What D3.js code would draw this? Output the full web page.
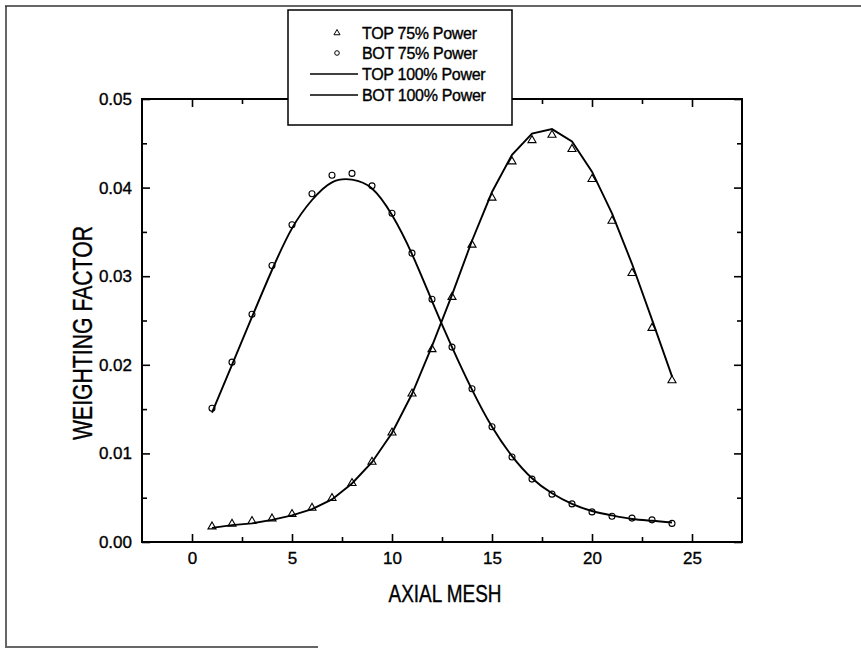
<!DOCTYPE html>
<html>
<head>
<meta charset="utf-8">
<script src="https://cdn.jsdelivr.net/npm/d3@7"></script>
<style>
  body { margin: 0; background: #fff; }
  svg { display: block; font-family: "Liberation Sans", Arial, sans-serif; }
  svg text { stroke: #000; stroke-width: 0.35px; }
</style>
</head>
<body>
<div id="chart"></div>
<script>
// axial mesh index and weighting factors
const axialMesh = [1, 2, 3, 4, 5, 6, 7, 8, 9, 10, 11, 12, 13, 14, 15, 16, 17, 18, 19, 20, 21, 22, 23, 24];

const top75 = [0.0018, 0.0021, 0.0024, 0.0027, 0.0032, 0.0039, 0.0050, 0.0067, 0.0091, 0.0124, 0.0168, 0.0218,
               0.0277, 0.0336, 0.0389, 0.0430, 0.0454, 0.0460, 0.0444, 0.0410, 0.0363, 0.0304, 0.0242, 0.0183];
const bot75 = [0.0151, 0.0203, 0.0257, 0.0312, 0.0358, 0.0393, 0.0414, 0.0416, 0.0402, 0.0371, 0.0326, 0.0274,
               0.0220, 0.0173, 0.0130, 0.0096, 0.0071, 0.0054, 0.0043, 0.0034, 0.0029, 0.0027, 0.0025, 0.0021];
const top100 = [0.0016, 0.0019, 0.0021, 0.0025, 0.0030, 0.0037, 0.0048, 0.0066, 0.0090, 0.0123, 0.0167, 0.0221,
                0.0279, 0.0340, 0.0395, 0.0437, 0.0461, 0.0466, 0.0452, 0.0418, 0.0371, 0.0314, 0.0251, 0.0187];
const bot100 = [0.0146, 0.0200, 0.0254, 0.0307, 0.0354, 0.0386, 0.0406, 0.0409, 0.0399, 0.0369, 0.0325, 0.0272,
                0.0220, 0.0172, 0.0130, 0.0097, 0.0072, 0.0055, 0.0043, 0.0035, 0.0030, 0.0026, 0.0024, 0.0022];

const xTicks = [0, 5, 10, 15, 20, 25];
const xMinorTicks = [2.5, 7.5, 12.5, 17.5, 22.5];
const yTicks = [0, 0.01, 0.02, 0.03, 0.04, 0.05];
const yMinorTicks = [0.005, 0.015, 0.025, 0.035, 0.045];

const legendLabels = ['TOP 75% Power', 'BOT 75% Power', 'TOP 100% Power', 'BOT 100% Power'];

const width = 861;
const height = 649;
const plot = { left: 142, right: 742, top: 99, bottom: 542 };

const svg = d3.select('#chart')
    .append('svg')
    .attr('width', width)
    .attr('height', height);

svg.append('rect').attr('width', width).attr('height', height).attr('fill', '#fff');

// scanned page edges
const edge = svg.append('g').attr('stroke', '#333').attr('stroke-width', 1.5).attr('fill', 'none');
edge.append('line').attr('x1', 5).attr('y1', 6).attr('x2', 861).attr('y2', 6);
edge.append('line').attr('x1', 6).attr('y1', 6).attr('x2', 6).attr('y2', 646);
edge.append('line').attr('x1', 5).attr('y1', 647).attr('x2', 318).attr('y2', 647);

const xScale = d3.scaleLinear().domain([-2.5, 27.5]).range([plot.left, plot.right]);
const yScale = d3.scaleLinear().domain([0, 0.05]).range([plot.bottom, plot.top]);

function styleAxis(g) {
    g.select('.domain').remove();
    g.selectAll('line').attr('stroke', '#000').attr('stroke-width', 1.6);
    g.selectAll('text').attr('fill', '#000').style('font-size', '17px')
        .style('font-family', '"Liberation Sans", Arial, sans-serif');
}

// bottom / top
svg.append('g').attr('transform', `translate(0,${plot.bottom})`)
    .call(d3.axisBottom(xScale).tickValues(xTicks).tickSize(-8).tickPadding(10).tickFormat(d3.format('d')))
    .call(styleAxis);
svg.append('g').attr('transform', `translate(0,${plot.bottom})`)
    .call(d3.axisBottom(xScale).tickValues(xMinorTicks).tickSize(-5).tickFormat(''))
    .call(styleAxis);
svg.append('g').attr('transform', `translate(0,${plot.top})`)
    .call(d3.axisTop(xScale).tickValues(xTicks).tickSize(-8).tickFormat(''))
    .call(styleAxis);
svg.append('g').attr('transform', `translate(0,${plot.top})`)
    .call(d3.axisTop(xScale).tickValues(xMinorTicks).tickSize(-5).tickFormat(''))
    .call(styleAxis);

// left / right
svg.append('g').attr('transform', `translate(${plot.left},0)`)
    .call(d3.axisLeft(yScale).tickValues(yTicks).tickSize(-8).tickPadding(10).tickFormat(d3.format('.2f')))
    .call(styleAxis);
svg.append('g').attr('transform', `translate(${plot.left},0)`)
    .call(d3.axisLeft(yScale).tickValues(yMinorTicks).tickSize(-5).tickFormat(''))
    .call(styleAxis);
svg.append('g').attr('transform', `translate(${plot.right},0)`)
    .call(d3.axisRight(yScale).tickValues(yTicks).tickSize(-8).tickFormat(''))
    .call(styleAxis);
svg.append('g').attr('transform', `translate(${plot.right},0)`)
    .call(d3.axisRight(yScale).tickValues(yMinorTicks).tickSize(-5).tickFormat(''))
    .call(styleAxis);

// frame
svg.append('rect')
    .attr('x', plot.left).attr('y', plot.top)
    .attr('width', plot.right - plot.left).attr('height', plot.bottom - plot.top)
    .attr('fill', 'none').attr('stroke', '#000').attr('stroke-width', 2);

// axis titles
svg.append('text')
    .attr('x', 445).attr('y', 602)
    .attr('text-anchor', 'middle')
    .attr('textLength', 113).attr('lengthAdjust', 'spacingAndGlyphs')
    .style('font-size', '24px')
    .text('AXIAL MESH');

svg.append('text')
    .attr('transform', 'translate(92,333)rotate(-90)')
    .attr('text-anchor', 'middle')
    .attr('textLength', 214).attr('lengthAdjust', 'spacingAndGlyphs')
    .style('font-size', '27px')
    .text('WEIGHTING FACTOR');

const topData = axialMesh.map((m, i) => [m, top100[i]]);
const botData = axialMesh.map((m, i) => [m, bot100[i]]);

const lineLinear = d3.line().x(d => xScale(d[0])).y(d => yScale(d[1]));
const lineSmooth = d3.line().x(d => xScale(d[0])).y(d => yScale(d[1])).curve(d3.curveNatural);

svg.append('path').datum(topData).attr('d', lineLinear)
    .attr('fill', 'none').attr('stroke', '#000').attr('stroke-width', 1.9);
svg.append('path').datum(botData).attr('d', lineSmooth)
    .attr('fill', 'none').attr('stroke', '#000').attr('stroke-width', 1.9);

const triangle = d3.symbol().type(d3.symbolTriangle).size(28);
const triangleSmall = d3.symbol().type(d3.symbolTriangle).size(16);

svg.append('g').selectAll('path')
    .data(axialMesh.map((m, i) => [m, top75[i]]))
    .join('path')
    .attr('d', triangle)
    .attr('transform', d => `translate(${xScale(d[0])},${yScale(d[1]) + 0.5})`)
    .attr('fill', 'none').attr('stroke', '#000').attr('stroke-width', 1.1);

svg.append('g').selectAll('circle')
    .data(axialMesh.map((m, i) => [m, bot75[i]]))
    .join('circle')
    .attr('cx', d => xScale(d[0]))
    .attr('cy', d => yScale(d[1]))
    .attr('r', 3)
    .attr('fill', 'none').attr('stroke', '#000').attr('stroke-width', 1.1);

// legend
const legend = svg.append('g');
legend.append('rect')
    .attr('x', 288).attr('y', 10).attr('width', 224).attr('height', 115)
    .attr('fill', '#fff').attr('stroke', '#000').attr('stroke-width', 1.5);

const rowY = [33, 53, 74, 95];
legend.append('path').attr('d', triangleSmall)
    .attr('transform', `translate(337,${rowY[0]})`)
    .attr('fill', 'none').attr('stroke', '#000').attr('stroke-width', 1);
legend.append('circle').attr('cx', 337).attr('cy', rowY[1]).attr('r', 2.3)
    .attr('fill', 'none').attr('stroke', '#000').attr('stroke-width', 1);
legend.append('line').attr('x1', 310).attr('x2', 358).attr('y1', rowY[2]).attr('y2', rowY[2])
    .attr('stroke', '#000').attr('stroke-width', 1.5);
legend.append('line').attr('x1', 310).attr('x2', 358).attr('y1', rowY[3]).attr('y2', rowY[3])
    .attr('stroke', '#000').attr('stroke-width', 1.5);

legend.selectAll('text.lab')
    .data(legendLabels)
    .join('text')
    .attr('class', 'lab')
    .attr('x', 362)
    .attr('y', (d, i) => rowY[i])
    .attr('dy', '0.36em')
    .style('font-size', '16px')
    .style('letter-spacing', '-0.3px')
    .text(d => d);
</script>
</body>
</html>
